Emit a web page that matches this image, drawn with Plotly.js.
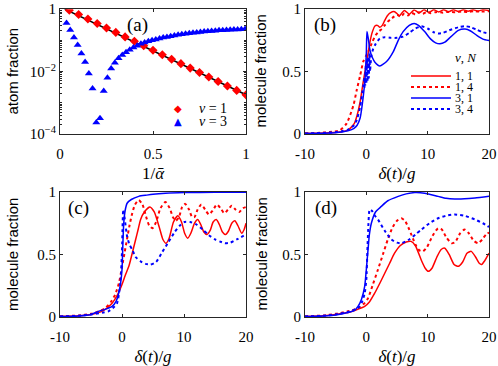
<!DOCTYPE html>
<html>
<head>
<meta charset="utf-8">
<script src="https://cdn.plot.ly/plotly-3.0.1.min.js"></script>
<style>
  html, body { margin: 0; padding: 0; background: #fff; }
  #chart { width: 498px; height: 366px; }
</style>
</head>
<body>
<div id="chart"></div>
<script>
// panel (a): atom fraction vs 1/alpha
const aRedX = [0.05, 0.10, 0.15, 0.20, 0.25, 0.30, 0.35, 0.40, 0.45, 0.50,
               0.55, 0.60, 0.65, 0.70, 0.75, 0.80, 0.85, 0.90, 0.95, 1.00];
const aRedY = [0.93, 0.671, 0.483, 0.348, 0.250, 0.180, 0.129, 0.0931, 0.0670, 0.0482,
               0.0347, 0.0249, 0.0179, 0.0129, 0.00929, 0.00668, 0.00481, 0.00346, 0.00249, 0.00179];
const aBlueX = [0.035, 0.055, 0.075, 0.095, 0.115, 0.135, 0.155, 0.175, 0.195, 0.215,
                0.235, 0.255, 0.275, 0.295, 0.315, 0.335, 0.355, 0.375, 0.395, 0.415,
                0.435, 0.455, 0.475, 0.495, 0.515, 0.535, 0.555, 0.575, 0.595, 0.615,
                0.635, 0.655, 0.675, 0.695, 0.715, 0.735, 0.755, 0.775, 0.795, 0.815,
                0.835, 0.855, 0.875, 0.895, 0.915, 0.935, 0.955, 0.975, 0.995];
const aBlueY = [0.363, 0.214, 0.123, 0.0708, 0.0380, 0.0204, 0.00871, 0.00288, 0.000234, 0.000316,
                0.00240, 0.00631, 0.0126, 0.0191, 0.0269, 0.0339, 0.0417, 0.0501, 0.0589, 0.0676,
                0.0776, 0.0851, 0.0933, 0.100, 0.107, 0.115, 0.123, 0.129, 0.135, 0.143,
                0.150, 0.157, 0.162, 0.168, 0.174, 0.180, 0.186, 0.191, 0.195, 0.200,
                0.204, 0.209, 0.211, 0.216, 0.219, 0.221, 0.224, 0.226, 0.229];
const aFitX = [0.025, 1.0];
const aFitY = [1.0, 0.0018];
const aLegendLabels = ['<i>ν</i> = 1', '<i>ν</i> = 3'];
const aLegendGlyphs = ['◆', '▲'];
const aLegendColors = ['#ff0000', '#0000ff'];

// panel (b)
const b11x = [-10, -8, -6, -4, -3, -2, -1.5, -1, -0.5, 0, 0.3, 0.6, 1, 1.4, 1.8, 2.2, 2.6, 3, 3.4, 3.9,
              4.6, 5.4, 6.2, 7, 7.8, 8.6, 9.4, 10.2, 11, 11.8, 12.6, 13.4, 14.2, 15, 15.8, 16.6, 17.4, 18.2, 19, 20];
const b11y = [0.004, 0.006, 0.01, 0.018, 0.03, 0.08, 0.15, 0.26, 0.42, 0.56, 0.65, 0.74, 0.82, 0.865, 0.87, 0.855, 0.87, 0.91, 0.945, 0.97,
              0.98, 0.948, 0.99, 0.96, 0.993, 0.97, 0.995, 0.975, 0.995, 0.978, 0.995, 0.98, 0.995, 0.982, 0.995, 0.984, 0.995, 0.985, 0.995, 0.99];
const b14x = [-10, -8, -6, -4.3, -3.2, -2.1, -1.57, -1, -0.5, 0, 0.5, 1, 1.5, 2, 2.5, 3, 3.5, 4, 4.5, 5,
              5.6, 6.2, 6.8, 7.4, 8, 8.6, 9.2, 9.8, 10.5, 11.5, 12.5, 13.5, 14.5, 15.5, 16.5, 17.5, 18.5, 20];
const b14y = [0.005, 0.008, 0.015, 0.03, 0.085, 0.23, 0.35, 0.47, 0.58, 0.63, 0.68, 0.74, 0.79, 0.82, 0.84, 0.87, 0.9, 0.92, 0.94, 0.955,
              0.94, 0.965, 0.95, 0.97, 0.957, 0.975, 0.962, 0.977, 0.968, 0.978, 0.972, 0.98, 0.975, 0.982, 0.977, 0.983, 0.98, 0.984];
const b31x = [-10, -7, -5, -4, -3, -2, -1.5, -1, -0.5, -0.2, 0, 0.1, 0.3, 0.6, 1, 1.4, 2.2, 3.3, 4.4, 5.2,
              6, 7, 7.8, 8.5, 9.5, 10.5, 11.3, 12, 12.8, 13.8, 15, 16.1, 17, 18, 19, 20];
const b31y = [0.003, 0.006, 0.01, 0.015, 0.025, 0.045, 0.07, 0.13, 0.3, 0.45, 0.65, 0.82, 0.77, 0.67, 0.61, 0.575, 0.545, 0.58, 0.66, 0.75,
              0.82, 0.87, 0.885, 0.87, 0.82, 0.76, 0.73, 0.722, 0.735, 0.78, 0.83, 0.84, 0.825, 0.79, 0.76, 0.748];
const b34x = [-10, -7, -5, -4, -3, -2, -1.57, -1, -0.5, -0.3, -0.2, -0.1, 0, 0.1, 0.2, 0.3, 0.4, 0.5, 0.6, 0.8,
              1.1, 1.5, 2.2, 3, 4, 5, 6, 7, 8, 9, 10, 11, 11.7, 12.5, 13.5, 15, 16, 17, 18, 19, 20];
const b34y = [0.004, 0.008, 0.015, 0.022, 0.035, 0.07, 0.11, 0.22, 0.38, 0.45, 0.38, 0.55, 0.4, 0.6, 0.42, 0.62, 0.45, 0.65, 0.5, 0.62,
              0.68, 0.72, 0.765, 0.775, 0.77, 0.77, 0.78, 0.81, 0.845, 0.862, 0.845, 0.815, 0.805, 0.81, 0.83, 0.855, 0.864, 0.855, 0.835, 0.815, 0.805];

// panel (c)
const c11x = [-10, -7, -5, -3, -1.6, -0.8, 0, 0.5, 1.1, 1.6, 2.2, 2.6, 3, 3.6, 4.5, 5.2, 6, 6.6, 7.1, 7.6,
              8.3, 9, 9.6, 10.1, 10.6, 11.1, 11.7, 12.2, 12.7, 13.2, 13.7, 14.2, 14.7, 15.2, 15.7, 16.2, 16.7, 17.2, 17.7, 18.2,
              18.7, 19.3, 19.7, 20];
const c11y = [0.004, 0.01, 0.02, 0.05, 0.11, 0.17, 0.26, 0.33, 0.405, 0.5, 0.62, 0.7, 0.78, 0.84, 0.88, 0.84, 0.72, 0.62, 0.59, 0.63,
              0.76, 0.81, 0.76, 0.67, 0.63, 0.67, 0.75, 0.78, 0.74, 0.68, 0.66, 0.69, 0.76, 0.78, 0.74, 0.68, 0.66, 0.69, 0.75, 0.77,
              0.73, 0.67, 0.7, 0.75];
const c14x = [-10, -7, -5, -3.5, -2.7, -1.8, -1.1, -0.5, 0, 0.4, 0.8, 1.2, 1.6, 2.1, 2.7, 3.3, 3.9, 4.4, 4.9, 5.5,
              6.2, 7, 7.7, 8.2, 8.7, 9.2, 9.7, 10.2, 10.8, 11.3, 11.7, 12.2, 12.8, 13.4, 14, 14.6, 15.3, 15.9, 16.5, 17.1,
              17.7, 18.3, 18.9, 19.5, 20];
const c14y = [0.005, 0.012, 0.025, 0.05, 0.07, 0.12, 0.18, 0.27, 0.4, 0.51, 0.62, 0.73, 0.82, 0.9, 0.935, 0.9, 0.8, 0.73, 0.71, 0.76,
              0.87, 0.92, 0.87, 0.8, 0.77, 0.8, 0.88, 0.905, 0.86, 0.8, 0.8, 0.86, 0.9, 0.86, 0.82, 0.85, 0.9, 0.87, 0.83, 0.86,
              0.89, 0.86, 0.84, 0.87, 0.88];
const c31x = [-10, -7, -5, -3.8, -2.5, -1.6, -1, -0.54, -0.2, 0, 0.15, 0.28, 0.5, 0.82, 1.5, 2.7, 4, 5, 7, 10, 15, 20];
const c31y = [0.003, 0.008, 0.02, 0.045, 0.065, 0.085, 0.12, 0.19, 0.28, 0.38, 0.6, 0.75, 0.85, 0.91, 0.94, 0.965, 0.975, 0.982, 0.99, 0.995, 0.997, 0.997];
const c34x = [-10, -7, -5, -3, -2.2, -1.5, -0.8, -0.27, 0, 0.1, 0.2, 0.4, 0.82, 1.2, 1.63, 2.2, 3, 3.8, 4.6, 5.5,
              6.5, 7.5, 8.5, 9.3, 10.1, 11, 12, 13, 14, 15, 16, 16.6, 17.5, 18.5, 20];
const c34y = [0.004, 0.01, 0.02, 0.035, 0.045, 0.07, 0.11, 0.27, 0.53, 0.75, 0.86, 0.8, 0.645, 0.58, 0.54, 0.48, 0.445, 0.425, 0.42, 0.44,
              0.52, 0.6, 0.68, 0.73, 0.76, 0.76, 0.74, 0.7, 0.655, 0.62, 0.6, 0.59, 0.595, 0.62, 0.66];

// panel (d)
const d11x = [-10, -7, -5, -3, -1.5, -0.27, 0.5, 1.36, 2.2, 3, 3.8, 4.6, 5.5, 6.5, 7.3, 8, 9, 9.6, 10.1, 10.7,
              11.5, 12.2, 12.8, 13.5, 14.3, 15, 15.7, 16.4, 17.1, 17.8, 18.4, 18.8, 19.3, 20];
const d11y = [0.004, 0.01, 0.02, 0.035, 0.06, 0.085, 0.12, 0.19, 0.27, 0.35, 0.43, 0.51, 0.57, 0.6, 0.605, 0.57, 0.45, 0.39, 0.365, 0.39,
              0.48, 0.54, 0.55, 0.5, 0.42, 0.405, 0.44, 0.51, 0.525, 0.48, 0.43, 0.42, 0.45, 0.51];
const d14x = [-10, -7, -5, -3, -1.36, -0.3, 0.28, 1, 1.9, 2.7, 3.5, 4.3, 5, 5.7, 6.3, 7, 8, 8.6, 9.2, 9.9,
              10.8, 11.7, 12.3, 13, 13.9, 14.5, 15.3, 16, 16.7, 17.5, 18.2, 18.9, 19.5, 20];
const d14y = [0.005, 0.012, 0.025, 0.045, 0.07, 0.11, 0.15, 0.25, 0.38, 0.5, 0.62, 0.72, 0.77, 0.79, 0.77, 0.7, 0.58, 0.535, 0.525, 0.56,
              0.65, 0.71, 0.7, 0.64, 0.59, 0.6, 0.67, 0.7, 0.67, 0.61, 0.59, 0.62, 0.66, 0.675];
const d31x = [-10, -7, -5, -3, -2, -1.36, -0.8, -0.27, 0, 0.28, 0.5, 0.82, 1.5, 2.45, 3.5, 5.2, 6.5, 7.9, 9.5, 11.7,
              13, 14.4, 16, 17.7, 20];
const d31y = [0.003, 0.008, 0.015, 0.035, 0.05, 0.085, 0.14, 0.245, 0.38, 0.54, 0.66, 0.75, 0.84, 0.885, 0.93, 0.965, 0.985, 0.995, 0.99, 0.965,
              0.95, 0.944, 0.945, 0.952, 0.966];
const d34x = [-10, -7, -5, -3, -1.36, -0.7, -0.27, 0, 0.17, 0.35, 0.55, 0.9, 1.4, 1.9, 3, 4.1, 5, 5.7, 7, 8,
              9, 10.3, 11.7, 13, 14.4, 16, 17.7, 19, 20];
const d34y = [0.004, 0.01, 0.02, 0.04, 0.07, 0.12, 0.19, 0.3, 0.53, 0.75, 0.86, 0.85, 0.81, 0.78, 0.69, 0.62, 0.595, 0.59, 0.62, 0.66,
              0.7, 0.75, 0.79, 0.81, 0.82, 0.81, 0.78, 0.75, 0.72];

const seriesLabels = ['1, 1', '1, 4', '3, 1', '3, 4'];
const seriesColors = ['#ff0000', '#ff0000', '#0000ff', '#0000ff'];
const seriesDash = ['solid', 'dot', 'solid', 'dot'];
const panelLabels = ['(a)', '(b)', '(c)', '(d)'];
const yTitles = ['atom fraction', 'molecule fraction', 'molecule fraction', 'molecule fraction'];
const timeTicks = [-10, 0, 10, 20];
const fracTicks = [0, 0.5, 1];

const serif = 'Liberation Serif, serif';
const sans = 'Liberation Sans, Arial, sans-serif';
const axisColor = '#262626';

function curve(x, y, k, xa, ya) {
    return {
        x: x, y: y, xaxis: xa, yaxis: ya,
        type: 'scatter', mode: 'lines',
        line: { color: seriesColors[k], dash: seriesDash[k], width: seriesDash[k] === 'dot' ? 2 : 1.5, shape: 'spline', smoothing: 0.6 },
        showlegend: false, hoverinfo: 'skip'
    };
}

const traces = [
    { x: aFitX, y: aFitY, xaxis: 'x', yaxis: 'y', mode: 'lines', line: { color: '#000', width: 1.6 } },
    { x: aRedX, y: aRedY, xaxis: 'x', yaxis: 'y', mode: 'markers',
      marker: { symbol: 'diamond', size: 7, color: '#ff0000' } },
    { x: aBlueX, y: aBlueY, xaxis: 'x', yaxis: 'y', mode: 'markers',
      marker: { symbol: 'triangle-up', size: 7, color: '#0000ff' } },
    curve(b11x, b11y, 0, 'x2', 'y2'), curve(b14x, b14y, 1, 'x2', 'y2'),
    curve(b31x, b31y, 2, 'x2', 'y2'), curve(b34x, b34y, 3, 'x2', 'y2'),
    curve(c11x, c11y, 0, 'x3', 'y3'), curve(c14x, c14y, 1, 'x3', 'y3'),
    curve(c31x, c31y, 2, 'x3', 'y3'), curve(c34x, c34y, 3, 'x3', 'y3'),
    curve(d11x, d11y, 0, 'x4', 'y4'), curve(d14x, d14y, 1, 'x4', 'y4'),
    curve(d31x, d31y, 2, 'x4', 'y4'), curve(d34x, d34y, 3, 'x4', 'y4')
];

function baseAxis(extra) {
    return Object.assign({
        showline: true, mirror: 'ticks', linecolor: axisColor, linewidth: 1,
        ticks: 'inside', ticklen: 3, tickcolor: axisColor, tickwidth: 1,
        showgrid: false, zeroline: false, automargin: false,
        tickfont: { family: serif, size: 15, color: '#000' }
    }, extra);
}

function timeAxis(domain, anchor) {
    return baseAxis({
        domain: domain, anchor: anchor, range: [-10, 20], tickvals: timeTicks,
        ticktext: timeTicks.map(String), ticklabelstandoff: 6,
        title: { text: '<i>δ</i>(<i>t</i>)/<i>g</i>', font: { family: serif, size: 17, color: '#000' }, standoff: 6 }
    });
}

function fracAxis(domain, anchor) {
    return baseAxis({
        domain: domain, anchor: anchor, range: [0, 1], tickvals: fracTicks,
        ticktext: ['0', '0.5', '1']
    });
}

const colL = [0.1205, 0.494];
const colR = [0.6124, 0.982];
const rowT = [0.634, 0.975];
const rowB = [0.134, 0.4754];

const shapes = [];
const annotations = [];

// y axis titles
const yTitleX = [13, 261, 12.5, 261];
const yTitleRows = [rowT, rowT, rowB, rowB];
yTitles.forEach(function (t, i) {
    annotations.push({
        xref: 'paper', yref: 'paper', x: yTitleX[i] / 498,
        y: (yTitleRows[i][0] + yTitleRows[i][1]) / 2,
        xanchor: 'center', yanchor: 'middle', textangle: -90,
        text: t, showarrow: false, font: { family: sans, size: 15, color: '#000' }
    });
});

// legend for panel (a): marker glyphs + labels
const aLegRowY = [108, 121];
aLegendLabels.forEach(function (lab, k) {
    const yy = 1 - aLegRowY[k] / 366;
    annotations.push({
        xref: 'paper', yref: 'paper', x: 177.5 / 498, y: yy, xanchor: 'center', yanchor: 'middle',
        text: aLegendGlyphs[k], showarrow: false,
        font: { family: 'DejaVu Sans', size: 10, color: aLegendColors[k] }
    });
    annotations.push({
        xref: 'paper', yref: 'paper', x: 197 / 498, y: yy, xanchor: 'left', yanchor: 'middle',
        text: lab, showarrow: false, font: { family: serif, size: 14, color: '#000' }
    });
});

// legend for panel (b), drawn as lines + labels
const legRowY = [76, 87, 98, 109];
seriesLabels.forEach(function (lab, k) {
    const yy = 1 - legRowY[k] / 366;
    shapes.push({
        type: 'line', xref: 'paper', yref: 'paper',
        x0: 411 / 498, x1: 451 / 498, y0: yy, y1: yy,
        line: { color: seriesColors[k], width: seriesDash[k] === 'dot' ? 2 : 1.5, dash: seriesDash[k] }
    });
    annotations.push({
        xref: 'paper', yref: 'paper', x: 453 / 498, y: yy, xanchor: 'left', yanchor: 'middle',
        text: lab, showarrow: false, font: { family: serif, size: 12, color: '#000' }
    });
});
annotations.push({
    xref: 'paper', yref: 'paper', x: 453 / 498, y: 1 - 57 / 366, xanchor: 'left', yanchor: 'middle',
    text: '<i>ν</i>, <i>N</i>', showarrow: false, font: { family: serif, size: 13, color: '#000' }
});

const labelPos = [[137, 25], [325, 25], [78, 208], [326, 208]];
panelLabels.forEach(function (lab, i) {
    annotations.push({
        xref: 'paper', yref: 'paper', x: labelPos[i][0] / 498, y: 1 - labelPos[i][1] / 366,
        xanchor: 'center', yanchor: 'middle', text: lab, showarrow: false,
        font: { family: serif, size: 19, color: '#000' }
    });
});

const layout = {
    width: 498, height: 366,
    margin: { l: 0, r: 0, t: 0, b: 0 },
    paper_bgcolor: '#fff', plot_bgcolor: '#fff',
    showlegend: false,
    xaxis: baseAxis({
        domain: colL, anchor: 'y', range: [0, 1], tickvals: [0, 0.5, 1], ticktext: ['0', '0.5', '1'],
        ticklabelstandoff: 6,
        title: { text: '1/<i>ᾱ</i>', font: { family: serif, size: 17, color: '#000' }, standoff: 6 }
    }),
    yaxis: baseAxis({
        domain: rowT, anchor: 'x', type: 'log', range: [-4, 0],
        tickvals: [1e-4, 1e-2, 1], ticktext: ['10<sup>−4</sup>', '10<sup>−2</sup>', '1'],
        minor: { ticks: 'inside', ticklen: 2, tickcolor: axisColor, dtick: 'D1' }
    }),
    xaxis2: timeAxis(colR, 'y2'),
    yaxis2: fracAxis(rowT, 'x2'),
    xaxis3: timeAxis(colL, 'y3'),
    yaxis3: fracAxis(rowB, 'x3'),
    xaxis4: timeAxis(colR, 'y4'),
    yaxis4: fracAxis(rowB, 'x4'),
    shapes: shapes,
    annotations: annotations
};

Plotly.newPlot('chart', traces, layout, { staticPlot: true });
</script>
</body>
</html>
